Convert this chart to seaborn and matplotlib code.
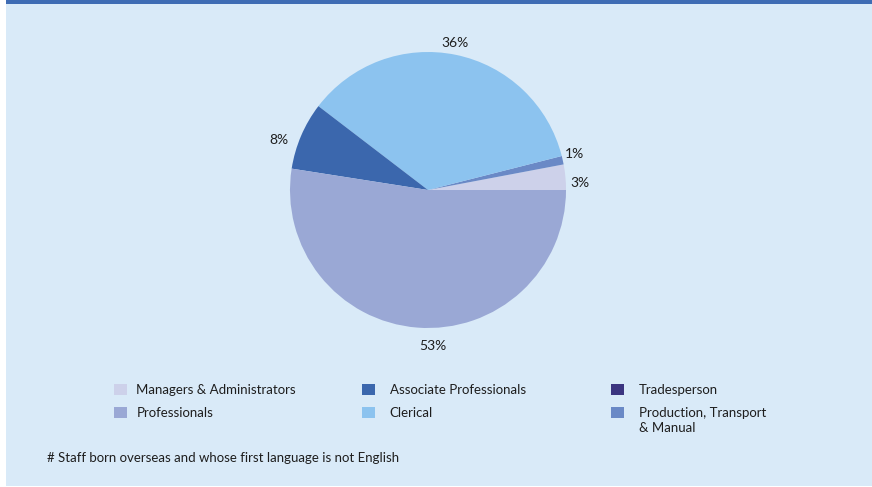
import matplotlib
matplotlib.use("Agg")
import matplotlib.pyplot as plt
from matplotlib.patches import Rectangle, Patch
import seaborn as sns

sns.set_theme(style="white")
plt.rcParams["font.family"] = ["Lato", "DejaVu Sans"]

# Occupation groups in drawing order (counter-clockwise from 3 o'clock)
groups = ["Managers & Administrators", "Production, Transport & Manual",
          "Tradesperson", "Clerical", "Associate Professionals", "Professionals"]
shares = [3, 1, 0, 36, 8, 53]
colors = ["#cdd1ea", "#6a89c6", "#3b3580", "#8cc3ef", "#3b67ad", "#9aa8d5"]

# Legend layout: three columns of two rows
legend_columns = [
    ["Managers & Administrators", "Professionals"],
    ["Associate Professionals", "Clerical"],
    ["Tradesperson", "Production, Transport"],
]
footnote = "# Staff born overseas and whose first language is not English"

BG = "#d9eaf8"
BAND = "#3e6cb4"
TXT = "#1e1e1e"
FS = 9.5

W, H = 872, 487
fig = plt.figure(figsize=(W / 100, H / 100), dpi=100, facecolor="white")

# Panel background and top rule
fig.patches.append(Rectangle((6 / W, 1 / H), 1 - 6 / W, 1 - 1 / H,
                             transform=fig.transFigure, facecolor=BG,
                             edgecolor="none", zorder=0))
fig.patches.append(Rectangle((6 / W, 1 - 3.5 / H), 1 - 6 / W, 3.5 / H,
                             transform=fig.transFigure, facecolor=BAND,
                             edgecolor="none", zorder=1))

# Pie axes: centre (428, 190) px, radius 138 px
cx, cy, r = 428, 190, 138
ax = fig.add_axes([(cx - r) / W, (H - cy - r) / H, 2 * r / W, 2 * r / H])
ax.set_facecolor("none")
ax.set_zorder(2)

total = sum(shares)


def pct_label(p):
    v = p * total / 100
    return "" if v < 0.5 else f"{v:.0f}%"


wedges, _, autotexts = ax.pie(
    shares, colors=colors, startangle=0, counterclock=True,
    autopct=pct_label, pctdistance=1.12, radius=1,
    wedgeprops=dict(linewidth=0),
    textprops=dict(color=TXT, fontsize=10),
)

# Nudge percentage labels into their usual spots around the rim
label_pos = {
    "3%": (1.10, 0.05),
    "1%": (1.065, 0.26),
    "36%": (0.196, 1.065),
    "8%": (-1.08, 0.36),
    "53%": (0.036, -1.13),
}
for t in autotexts:
    if t.get_text() in label_pos:
        t.set_position(label_pos[t.get_text()])

ax.set_xlim(-1, 1)
ax.set_ylim(-1, 1)
ax.set_aspect("equal")
ax.axis("off")

color_of = dict(zip(groups, colors))
color_of["Production, Transport"] = color_of["Production, Transport & Manual"]

# Three legend columns
col_x = [114, 362, 611]
col_pad = [0.75, 1.15, 1.15]
for x, pad, labels in zip(col_x, col_pad, legend_columns):
    handles = [Patch(facecolor=color_of[l], edgecolor="none", label=l) for l in labels]
    fig.legend(handles=handles, loc="upper left",
               bbox_to_anchor=(x / W, 1 - 384 / H), frameon=False,
               fontsize=FS, labelcolor=TXT, handlelength=0.95, handleheight=0.95,
               handletextpad=pad, labelspacing=0.8, borderaxespad=0,
               borderpad=0)

fig.text(638.5 / W, 1 - 428 / H, "& Manual", fontsize=FS, color=TXT,
         va="center", ha="left")

fig.text(47 / W, 1 - 458 / H, footnote, fontsize=FS, color=TXT,
         va="center", ha="left")

fig.savefig("out.png", dpi=100, facecolor=fig.get_facecolor())
